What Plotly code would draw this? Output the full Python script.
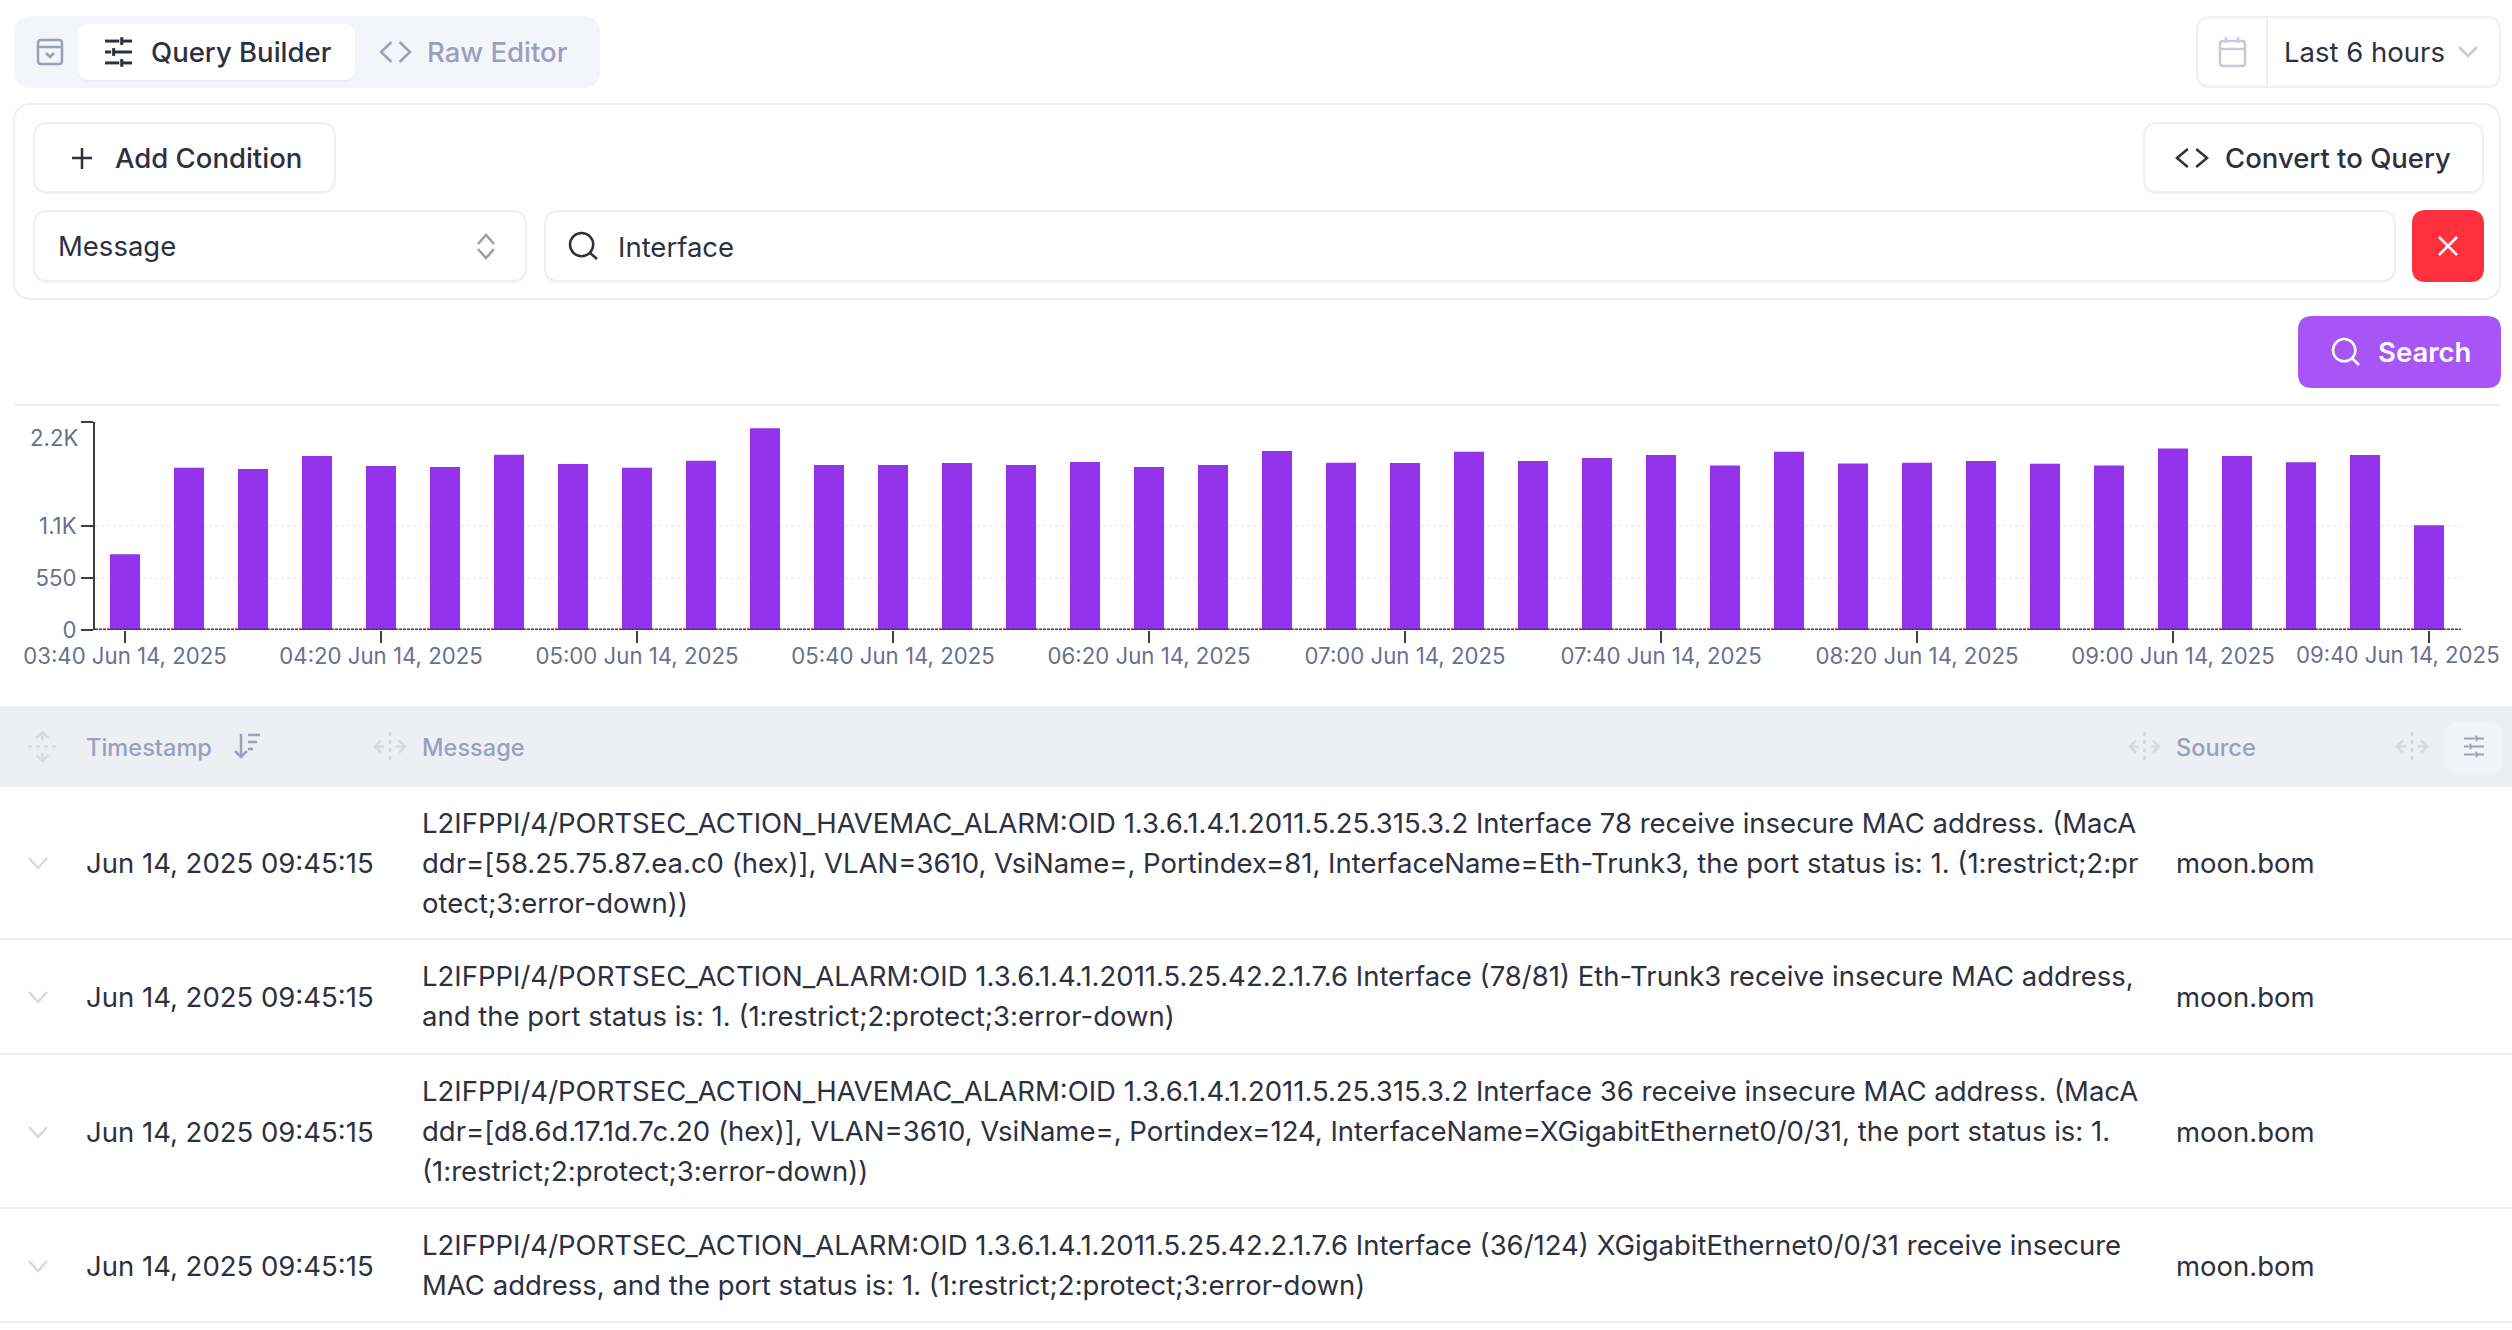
import plotly.graph_objects as go

# Page size, everything in the UI is placed in page pixels.
PAGE_W = 2512
PAGE_H = 1330

bar_times = [
    '2025-06-14 03:40', '2025-06-14 03:50', '2025-06-14 04:00', '2025-06-14 04:10',
    '2025-06-14 04:20', '2025-06-14 04:30', '2025-06-14 04:40', '2025-06-14 04:50',
    '2025-06-14 05:00', '2025-06-14 05:10', '2025-06-14 05:20', '2025-06-14 05:30',
    '2025-06-14 05:40', '2025-06-14 05:50', '2025-06-14 06:00', '2025-06-14 06:10',
    '2025-06-14 06:20', '2025-06-14 06:30', '2025-06-14 06:40', '2025-06-14 06:50',
    '2025-06-14 07:00', '2025-06-14 07:10', '2025-06-14 07:20', '2025-06-14 07:30',
    '2025-06-14 07:40', '2025-06-14 07:50', '2025-06-14 08:00', '2025-06-14 08:10',
    '2025-06-14 08:20', '2025-06-14 08:30', '2025-06-14 08:40', '2025-06-14 08:50',
    '2025-06-14 09:00', '2025-06-14 09:10', '2025-06-14 09:20', '2025-06-14 09:30',
    '2025-06-14 09:40',
]
bar_counts = [
    802, 1716, 1702, 1840, 1734, 1723, 1854, 1755, 1716, 1790, 2133, 1744, 1744,
    1766, 1744, 1776, 1723, 1744, 1893, 1769, 1766, 1886, 1787, 1818, 1850, 1741,
    1886, 1762, 1769, 1787, 1758, 1741, 1921, 1840, 1773, 1850, 1109,
]

x_tick_vals = [
    '2025-06-14 03:40', '2025-06-14 04:20', '2025-06-14 05:00', '2025-06-14 05:40',
    '2025-06-14 06:20', '2025-06-14 07:00', '2025-06-14 07:40', '2025-06-14 08:20',
    '2025-06-14 09:00', '2025-06-14 09:40',
]
# the last label is pulled in from the page edge, see the annotation below
x_tick_text = [
    '03:40 Jun 14, 2025', '04:20 Jun 14, 2025', '05:00 Jun 14, 2025',
    '05:40 Jun 14, 2025', '06:20 Jun 14, 2025', '07:00 Jun 14, 2025',
    '07:40 Jun 14, 2025', '08:20 Jun 14, 2025', '09:00 Jun 14, 2025',
    '',
]
last_x_label = '09:40 Jun 14, 2025'
y_tick_vals = [0, 550, 1100, 2200]
y_tick_text = ['0', '550', '1.1K', '']

row_timestamp = 'Jun 14, 2025 09:45:15'
row_source = 'moon.bom'
row_messages = [
    ['L2IFPPI/4/PORTSEC_ACTION_HAVEMAC_ALARM:OID 1.3.6.1.4.1.2011.5.25.315.3.2 Interface 78 receive insecure MAC address. (MacA',
     'ddr=[58.25.75.87.ea.c0 (hex)], VLAN=3610, VsiName=, Portindex=81, InterfaceName=Eth-Trunk3, the port status is: 1. (1:restrict;2:pr',
     'otect;3:error-down))'],
    ['L2IFPPI/4/PORTSEC_ACTION_ALARM:OID 1.3.6.1.4.1.2011.5.25.42.2.1.7.6 Interface (78/81) Eth-Trunk3 receive insecure MAC address,',
     'and the port status is: 1. (1:restrict;2:protect;3:error-down)'],
    ['L2IFPPI/4/PORTSEC_ACTION_HAVEMAC_ALARM:OID 1.3.6.1.4.1.2011.5.25.315.3.2 Interface 36 receive insecure MAC address. (MacA',
     'ddr=[d8.6d.17.1d.7c.20 (hex)], VLAN=3610, VsiName=, Portindex=124, InterfaceName=XGigabitEthernet0/0/31, the port status is: 1.',
     '(1:restrict;2:protect;3:error-down))'],
    ['L2IFPPI/4/PORTSEC_ACTION_ALARM:OID 1.3.6.1.4.1.2011.5.25.42.2.1.7.6 Interface (36/124) XGigabitEthernet0/0/31 receive insecure',
     'MAC address, and the port status is: 1. (1:restrict;2:protect;3:error-down)'],
]
row_centers = [863, 997, 1132, 1266]
row_first_lines = [823, 976, 1091, 1245]
row_lines = [939, 1054, 1208, 1322]

FONT = 'Inter'
TEXT_SIZE = 27.5
TICK_SIZE = 22.2
TICK_COLOR = '#6b6f8f'
AXIS_COLOR = '#3b3d50'
DARK = '#2e3040'
MUTED = '#9a9fbf'
BORDER = '#eeeff5'
PALE = '#d6d8e5'


def fx(x):
    return x / PAGE_W


def fy(y):
    return 1 - y / PAGE_H


shapes = []
annotations = []


def rrect(x0, y0, x1, y1, r, fill='white', line=None, width=2):
    d = (f'M {fx(x0 + r)} {fy(y0)} L {fx(x1 - r)} {fy(y0)} Q {fx(x1)} {fy(y0)} {fx(x1)} {fy(y0 + r)} '
         f'L {fx(x1)} {fy(y1 - r)} Q {fx(x1)} {fy(y1)} {fx(x1 - r)} {fy(y1)} '
         f'L {fx(x0 + r)} {fy(y1)} Q {fx(x0)} {fy(y1)} {fx(x0)} {fy(y1 - r)} '
         f'L {fx(x0)} {fy(y0 + r)} Q {fx(x0)} {fy(y0)} {fx(x0 + r)} {fy(y0)} Z')
    shapes.append(dict(type='path', xref='paper', yref='paper', path=d, fillcolor=fill,
                       line=dict(color=line if line else fill, width=width if line else 0),
                       layer='below'))


def poly(points, color, width=2.5, dash=None):
    d = 'M ' + ' L '.join(f'{fx(x)} {fy(y)}' for x, y in points)
    shapes.append(dict(type='path', xref='paper', yref='paper', path=d,
                       line=dict(color=color, width=width, dash=dash or 'solid'), layer='below'))


def circle(x0, y0, x1, y1, color, width=2.5):
    shapes.append(dict(type='circle', xref='paper', yref='paper', x0=fx(x0), x1=fx(x1),
                       y0=fy(y1), y1=fy(y0), line=dict(color=color, width=width), layer='below'))


def label(text, x, y, size=TEXT_SIZE, color=DARK, weight=400):
    annotations.append(dict(text=text, xref='paper', yref='paper', x=fx(x - 1.5), y=fy(y),
                            xanchor='left', yanchor='middle', showarrow=False, borderpad=0,
                            font=dict(family=FONT, size=size, color=color, weight=weight)))


def button(x0, y0, x1, y1):
    # soft shadow under the white buttons
    rrect(x0, y0 + 2, x1, y1 + 2, 14, fill='#f1f2f7')
    rrect(x0, y0, x1, y1, 14, line=BORDER)


def sliders_icon(x0, y0, x1, y1, color, width=2.5):
    h = (y1 - y0)
    w = (x1 - x0)
    for frac, knob in [(0.08, 0.62), (0.5, 0.32), (0.92, 0.62)]:
        y = y0 + h * frac
        k = x0 + w * knob
        poly([(x0, y), (k - w * 0.09, y)], color, width)
        poly([(k, y), (x1, y)], color, width)
        poly([(k, y - h * 0.15), (k, y + h * 0.15)], color, width)


def code_icon(x0, y0, x1, y1, color, width=2.5):
    w = (x1 - x0) * 0.36
    ym = (y0 + y1) / 2
    poly([(x0 + w, y0), (x0, ym), (x0 + w, y1)], color, width)
    poly([(x1 - w, y0), (x1, ym), (x1 - w, y1)], color, width)


def search_icon(x0, y0, x1, y1, color, width=2.5):
    size = (x1 - x0) * 0.86
    circle(x0, y0, x0 + size, y0 + size, color, width)
    poly([(x0 + size * 0.85, y0 + size * 0.85), (x1, y1)], color, width)


def move_icon(x0, y0, x1, y1, color, horizontal=True):
    xm = (x0 + x1) / 2
    ym = (y0 + y1) / 2
    if horizontal:
        poly([(xm, y0), (xm, y1)], color, 2.5, '4px,4px')
        poly([(x0, ym), (xm - 6, ym)], color, 2.5)
        poly([(xm + 6, ym), (x1, ym)], color, 2.5)
        poly([(x0 + 6, ym - 6), (x0, ym), (x0 + 6, ym + 6)], color, 2.5)
        poly([(x1 - 6, ym - 6), (x1, ym), (x1 - 6, ym + 6)], color, 2.5)
    else:
        poly([(x0, ym), (x1, ym)], color, 2.5, '4px,4px')
        poly([(xm, y0), (xm, ym - 6)], color, 2.5)
        poly([(xm, ym + 6), (xm, y1)], color, 2.5)
        poly([(xm - 6, y0 + 6), (xm, y0), (xm + 6, y0 + 6)], color, 2.5)
        poly([(xm - 6, y1 - 6), (xm, y1), (xm + 6, y1 - 6)], color, 2.5)


# Tabs on the top left
rrect(14, 16, 600, 88, 18, fill='#f4f5fa')
rrect(78, 25, 355, 82, 12, fill='#eceef4')
rrect(78, 24, 355, 80, 12)
rrect(38, 40, 62, 64, 3, fill='#f4f5fa', line=MUTED, width=2.5)
poly([(38, 47), (62, 47)], MUTED)
poly([(46, 53), (50, 57), (54, 53)], MUTED)
sliders_icon(105, 39, 132, 65, DARK, 3)
label('Query Builder', 151, 52, color=DARK, weight=500)
code_icon(381, 42, 410, 62, MUTED)
label('Raw Editor', 427, 52, color=MUTED, weight=500)

# Time range picker
rrect(2197, 17, 2500, 87, 14, line=BORDER)
poly([(2267, 17), (2267, 87)], BORDER, 2)
rrect(2220, 41, 2245, 66, 3, line='#c6c9dc', width=2.5)
poly([(2220, 49), (2245, 49)], '#c6c9dc')
poly([(2226, 37), (2226, 43)], '#c6c9dc')
poly([(2238, 37), (2238, 43)], '#c6c9dc')
label('Last 6 hours', 2284, 52)
poly([(2459, 47), (2468, 56), (2477, 47)], '#c6c9dc')

# Query panel
rrect(14, 104, 2500, 299, 18, line=BORDER)
button(34, 123, 335, 192)
poly([(72, 158), (92, 158)], DARK)
poly([(82, 148), (82, 169)], DARK)
label('Add Condition', 115, 158, weight=500)
button(2144, 123, 2483, 192)
code_icon(2177, 149, 2207, 167, DARK)
label('Convert to Query', 2225, 158, weight=500)

button(34, 211, 526, 281)
label('Message', 58, 246)
poly([(478, 244), (486, 235), (494, 244)], '#9a9dab')
poly([(478, 249), (486, 258), (494, 249)], '#9a9dab')
button(545, 211, 2395, 281)
search_icon(570, 233, 597, 259, DARK)
label('Interface', 618, 247)
rrect(2412, 210, 2484, 282, 14, fill='#ff2f3e')
poly([(2439, 237), (2457, 255)], 'white')
poly([(2457, 237), (2439, 255)], 'white')

# Search button
rrect(2298, 316, 2501, 388, 14, fill='#a855f7')
search_icon(2333, 339, 2359, 365, 'white')
label('Search', 2378, 352, color='white', weight=600)

poly([(14, 405), (2500, 405)], BORDER, 2)

# Table header
rrect(0, 706, PAGE_W, 787, 0, fill=BORDER)
move_icon(28, 732, 57, 761, PALE, horizontal=False)
label('Timestamp', 86, 747, size=23.6, color=MUTED, weight=500)
poly([(241, 734), (241, 757)], MUTED)
poly([(235, 751), (241, 757), (247, 751)], MUTED)
poly([(248, 735), (260, 735)], MUTED)
poly([(248, 742), (257, 742)], MUTED)
poly([(248, 749), (253, 749)], MUTED)
move_icon(375, 732, 405, 761, PALE)
label('Message', 422, 747, size=23.6, color=MUTED, weight=500)
move_icon(2130, 732, 2159, 761, PALE)
label('Source', 2176, 747, size=23.6, color=MUTED, weight=500)
move_icon(2397, 732, 2427, 761, PALE)
rrect(2446, 722, 2501, 773, 12, fill='#f3f4f9')
sliders_icon(2464, 737, 2484, 756, MUTED, 2)

# Table rows
for center, first, line_y, message in zip(row_centers, row_first_lines, row_lines, row_messages):
    poly([(29, center - 5), (38, center + 5), (47, center - 5)], PALE)
    label(row_timestamp, 86, center)
    for i, text in enumerate(message):
        label(text, 422, first + i * 40)
    label(row_source, 2176, center)
    poly([(0, line_y), (PAGE_W, line_y)], BORDER, 2)

# 2.2K sits lower than its tick in the original
annotations.append(dict(text='2.2K', xref='paper', yref='y', x=fx(79), y=2200, yshift=-16,
                        xanchor='right', yanchor='middle', showarrow=False, borderpad=0,
                        font=dict(family=FONT, size=TICK_SIZE, color=TICK_COLOR)))
annotations.append(dict(text=last_x_label, xref='paper', yref='paper', x=fx(2501), y=fy(654),
                        xanchor='right', yanchor='middle', showarrow=False, borderpad=0,
                        font=dict(family=FONT, size=TICK_SIZE, color=TICK_COLOR)))

# Bars
fig = go.Figure(go.Bar(x=bar_times, y=bar_counts, marker_color='#9333ea', marker_line_width=0))

fig.update_layout(
    width=PAGE_W, height=PAGE_H, margin=dict(l=0, r=0, t=0, b=0, pad=0, autoexpand=False),
    paper_bgcolor='white', plot_bgcolor='rgba(0,0,0,0)', showlegend=False,
    bargap=0.53, shapes=shapes, annotations=annotations,
    font=dict(family=FONT, size=TICK_SIZE, color=TICK_COLOR),
)
fig.update_xaxes(
    type='date', domain=[fx(95), fx(2461)],
    range=['2025-06-14 03:35:18.75', '2025-06-14 09:45'],
    tickmode='array', tickvals=x_tick_vals, ticktext=x_tick_text,
    ticks='outside', ticklen=12, tickwidth=2, tickcolor=AXIS_COLOR,
    ticklabelstandoff=-6,
    showgrid=False, zeroline=False, showline=False, tickangle=0,
    tickfont=dict(family=FONT, size=TICK_SIZE, color=TICK_COLOR),
)
fig.update_yaxes(
    domain=[fy(630), fy(422)], range=[0, 2200],
    tickmode='array', tickvals=y_tick_vals, ticktext=y_tick_text,
    ticks='outside', ticklen=12, tickwidth=2, tickcolor=AXIS_COLOR,
    showline=True, linecolor=AXIS_COLOR, linewidth=2,
    showgrid=True, gridcolor='#f1f1f5', griddash='dot', gridwidth=2, zeroline=False,
    tickfont=dict(family=FONT, size=TICK_SIZE, color=TICK_COLOR),
)

# Dotted base line along the x axis
fig.add_shape(type='line', xref='x domain', yref='y', x0=0, x1=1, y0=0, y1=0,
              line=dict(color=AXIS_COLOR, width=3, dash='3px,1px'), layer='above')

fig.write_html('out.html', config=dict(displayModeBar=False),
               post_script="document.body.style.margin='0';")
